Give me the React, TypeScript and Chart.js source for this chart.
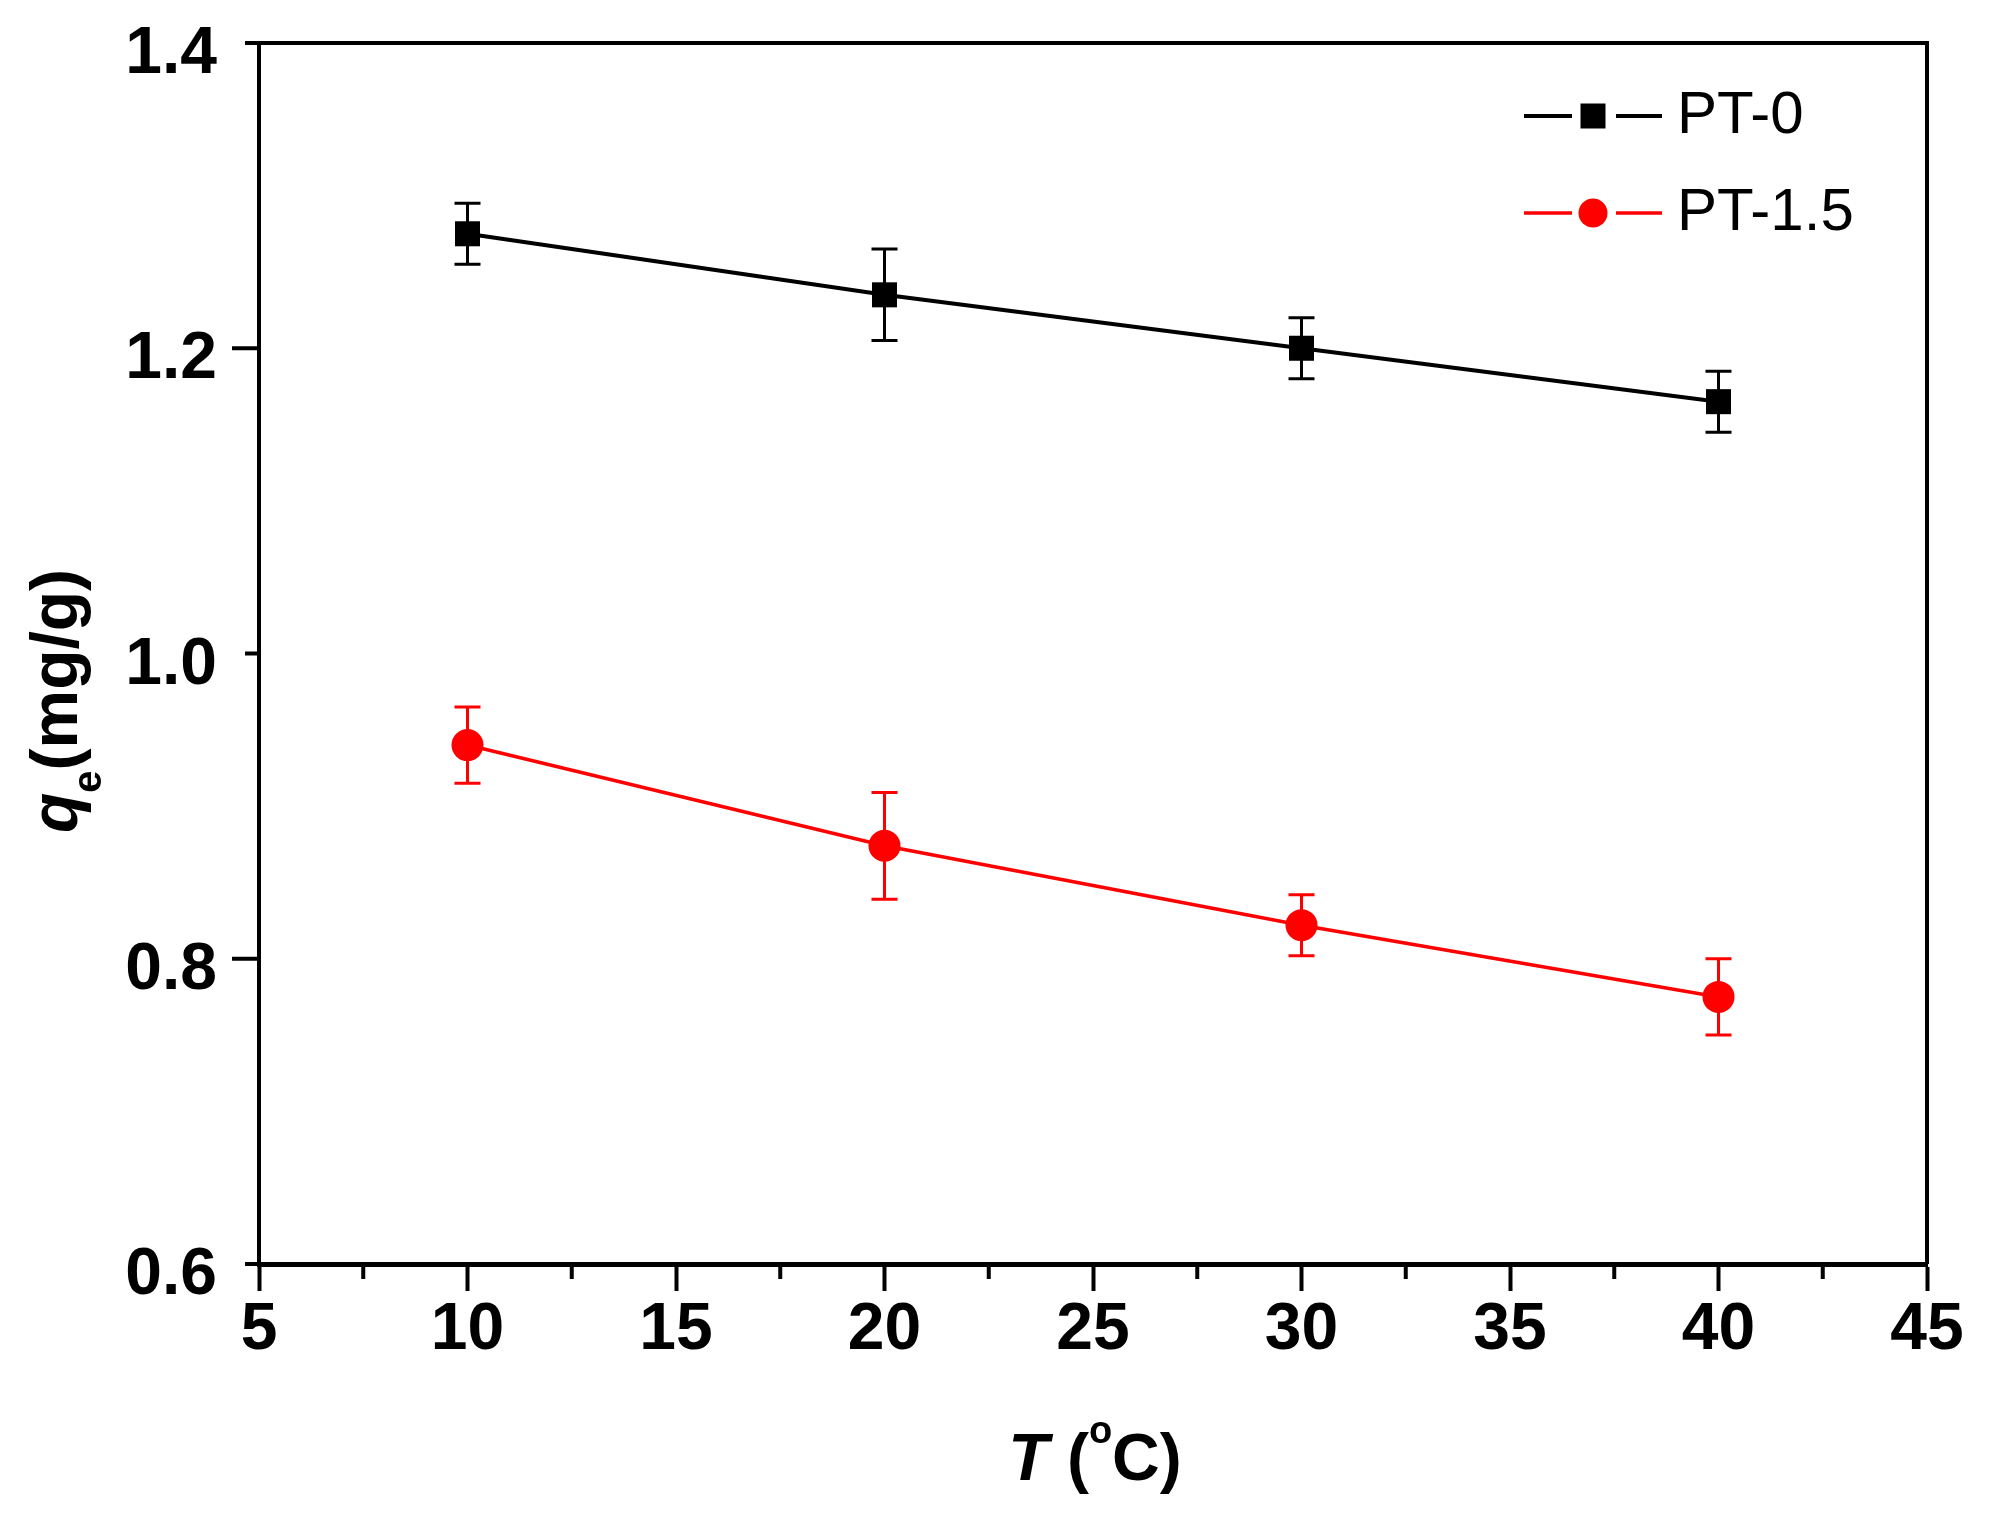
import { useEffect, useRef } from "react"
import { Chart, registerables } from "chart.js"
import type { Plugin } from "chart.js"

Chart.register(...registerables)

const temperatures = [10, 20, 30, 40]
const pt0Values = [1.275, 1.235, 1.2, 1.165]
const pt0Errors = [0.02, 0.03, 0.02, 0.02]
const pt15Values = [0.94, 0.874, 0.822, 0.775]
const pt15Errors = [0.025, 0.035, 0.02, 0.025]
const seriesErrors = [pt0Errors, pt15Errors]

const xTicks = [5, 10, 15, 20, 25, 30, 35, 40, 45]
const xMinorTicks = [7.5, 12.5, 17.5, 22.5, 27.5, 32.5, 37.5, 42.5]
const yTicks = [0.6, 0.8, 1.0, 1.2, 1.4]

const FONT = "'Liberation Sans', Arial, Helvetica, sans-serif"

type Run = { text: string; font: string; dy: number }

// draws a row of mixed-font text centred on x = 0 at baseline y = 0
function drawRuns(ctx: CanvasRenderingContext2D, runs: Run[]) {
  let total = 0
  const widths = runs.map((r) => {
    ctx.font = r.font
    const w = ctx.measureText(r.text).width
    total += w
    return w
  })
  let x = -total / 2
  ctx.textAlign = "left"
  ctx.textBaseline = "alphabetic"
  runs.forEach((r, i) => {
    ctx.font = r.font
    ctx.fillText(r.text, x, r.dy)
    x += widths[i]
  })
}

const errorBarPlugin: Plugin<"line"> = {
  id: "errorBars",
  beforeDatasetsDraw(chart) {
    const { ctx } = chart
    const xs = chart.scales.x
    const ys = chart.scales.y
    ctx.save()
    chart.data.datasets.forEach((ds, di) => {
      const errs = seriesErrors[di]
      ctx.strokeStyle = ds.borderColor as string
      ctx.lineWidth = 3
      ds.data.forEach((p: any, i: number) => {
        const px = xs.getPixelForValue(p.x)
        const top = ys.getPixelForValue(p.y + errs[i])
        const bot = ys.getPixelForValue(p.y - errs[i])
        ctx.beginPath()
        ctx.moveTo(px, top)
        ctx.lineTo(px, bot)
        ctx.moveTo(px - 13, top)
        ctx.lineTo(px + 13, top)
        ctx.moveTo(px - 13, bot)
        ctx.lineTo(px + 13, bot)
        ctx.stroke()
      })
    })
    ctx.restore()
  },
}

const framePlugin: Plugin<"line"> = {
  id: "frame",
  afterDraw(chart) {
    const { ctx, chartArea } = chart
    const { left, right, top, bottom } = chartArea
    const xs = chart.scales.x
    const ys = chart.scales.y
    ctx.save()
    ctx.strokeStyle = "#000"
    ctx.lineWidth = 4
    // top and right border
    ctx.beginPath()
    ctx.moveTo(left - 2, top)
    ctx.lineTo(right, top)
    ctx.moveTo(right, top - 2)
    ctx.lineTo(right, bottom)
    ctx.stroke()

    // x minor ticks
    ctx.beginPath()
    xMinorTicks.forEach((v) => {
      const px = xs.getPixelForValue(v)
      ctx.moveTo(px, bottom)
      ctx.lineTo(px, bottom + 15)
    })
    ctx.stroke()

    // y ticks, alternating short / long
    ctx.beginPath()
    yTicks.forEach((v, i) => {
      const py = ys.getPixelForValue(v)
      const len = i % 2 === 0 ? 14 : 27
      ctx.moveTo(left, py)
      ctx.lineTo(left - len, py)
    })
    ctx.stroke()
    ctx.restore()
  },
}

const titlePlugin: Plugin<"line"> = {
  id: "axisTitles",
  afterDraw(chart) {
    const { ctx } = chart
    ctx.save()
    ctx.fillStyle = "#000"

    ctx.translate(1095, 1480)
    drawRuns(ctx, [
      { text: "T", font: `italic bold 66px ${FONT}`, dy: 0 },
      { text: " (", font: `bold 66px ${FONT}`, dy: 0 },
      { text: "o", font: `bold 38px ${FONT}`, dy: -37 },
      { text: "C)", font: `bold 66px ${FONT}`, dy: 0 },
    ])
    ctx.setTransform(1, 0, 0, 1, 0, 0)

    ctx.translate(77, 701)
    ctx.rotate(-Math.PI / 2)
    drawRuns(ctx, [
      { text: "q", font: `italic bold 66px ${FONT}`, dy: 0 },
      { text: "e", font: `bold 40px ${FONT}`, dy: 24 },
      { text: "(mg/g)", font: `bold 66px ${FONT}`, dy: 0 },
    ])
    ctx.restore()
  },
}

const legendPlugin: Plugin<"line"> = {
  id: "originLegend",
  afterDraw(chart) {
    const { ctx } = chart
    const rowY = [116, 213]
    ctx.save()
    chart.data.datasets.forEach((ds, i) => {
      const y = rowY[i]
      const color = ds.borderColor as string
      ctx.strokeStyle = color
      ctx.fillStyle = color
      ctx.lineWidth = ds.borderWidth as number
      ctx.beginPath()
      ctx.moveTo(1524, y)
      ctx.lineTo(1572, y)
      ctx.moveTo(1616, y)
      ctx.lineTo(1662, y)
      ctx.stroke()
      if (ds.pointStyle === "rect") {
        ctx.fillRect(1593 - 12.5, y - 12.5, 25, 25)
      } else {
        ctx.beginPath()
        ctx.arc(1593, y, 14.5, 0, Math.PI * 2)
        ctx.fill()
      }
      ctx.fillStyle = "#000"
      ctx.font = `60px ${FONT}`
      ctx.textAlign = "left"
      ctx.textBaseline = "middle"
      ctx.fillText(ds.label || "", 1677, y)
    })
    ctx.restore()
  },
}

export default function App() {
  const canvasRef = useRef<HTMLCanvasElement>(null)
  const chartRef = useRef<Chart<"line"> | null>(null)

  useEffect(() => {
    document.body.style.margin = "0"
    document.body.style.overflow = "hidden"
    if (!canvasRef.current) return
    if (chartRef.current) chartRef.current.destroy()

    const tickFont = { family: FONT, size: 66, weight: "bold" as const }

    chartRef.current = new Chart(canvasRef.current, {
      type: "line",
      data: {
        datasets: [
          {
            label: "PT-0",
            data: temperatures.map((t, i) => ({ x: t, y: pt0Values[i] })),
            borderColor: "#000000",
            backgroundColor: "#000000",
            borderWidth: 4,
            pointStyle: "rect",
            pointRadius: 17.7,
            pointBorderWidth: 0,
            pointBackgroundColor: "#000000",
          },
          {
            label: "PT-1.5",
            data: temperatures.map((t, i) => ({ x: t, y: pt15Values[i] })),
            borderColor: "#FF0000",
            backgroundColor: "#FF0000",
            borderWidth: 3.5,
            pointStyle: "circle",
            pointRadius: 16,
            pointBorderWidth: 0,
            pointBackgroundColor: "#FF0000",
          },
        ],
      },
      options: {
        animation: false,
        responsive: true,
        maintainAspectRatio: false,
        events: [],
        layout: { padding: { top: 43, right: 65, left: 0, bottom: 0 } },
        plugins: {
          legend: { display: false },
          tooltip: { enabled: false },
        },
        scales: {
          x: {
            type: "linear",
            min: 5,
            max: 45,
            afterBuildTicks: (s) => {
              s.ticks = xTicks.map((v) => ({ value: v }))
            },
            afterFit: (s: any) => {
              s.height = 252
              s.paddingLeft = 0
              s.paddingRight = 0
            },
            grid: {
              drawOnChartArea: false,
              drawTicks: true,
              tickLength: 27,
              tickWidth: 4,
              tickColor: "#000",
              color: "#000",
            },
            border: { display: true, color: "#000", width: 5 },
            ticks: {
              font: tickFont,
              color: "#000",
              padding: 0,
              maxRotation: 0,
              autoSkip: false,
            },
          },
          y: {
            min: 0.6,
            max: 1.4,
            afterBuildTicks: (s) => {
              s.ticks = yTicks.map((v) => ({ value: v }))
            },
            afterFit: (s: any) => {
              s.width = 259
              s.paddingTop = 0
              s.paddingBottom = 0
            },
            grid: { drawOnChartArea: false, drawTicks: false },
            border: { display: true, color: "#000", width: 4 },
            ticks: {
              font: tickFont,
              color: "#000",
              padding: 42,
              labelOffset: 12,
              autoSkip: false,
              callback: (v) => Number(v).toFixed(1),
            },
          },
        },
      },
      plugins: [errorBarPlugin, framePlugin, titlePlugin, legendPlugin],
    })

    return () => {
      if (chartRef.current) {
        chartRef.current.destroy()
        chartRef.current = null
      }
    }
  }, [])

  return (
    <div style={{ width: 1992, height: 1516, position: "relative", background: "#fff" }}>
      <canvas ref={canvasRef} />
    </div>
  )
}
